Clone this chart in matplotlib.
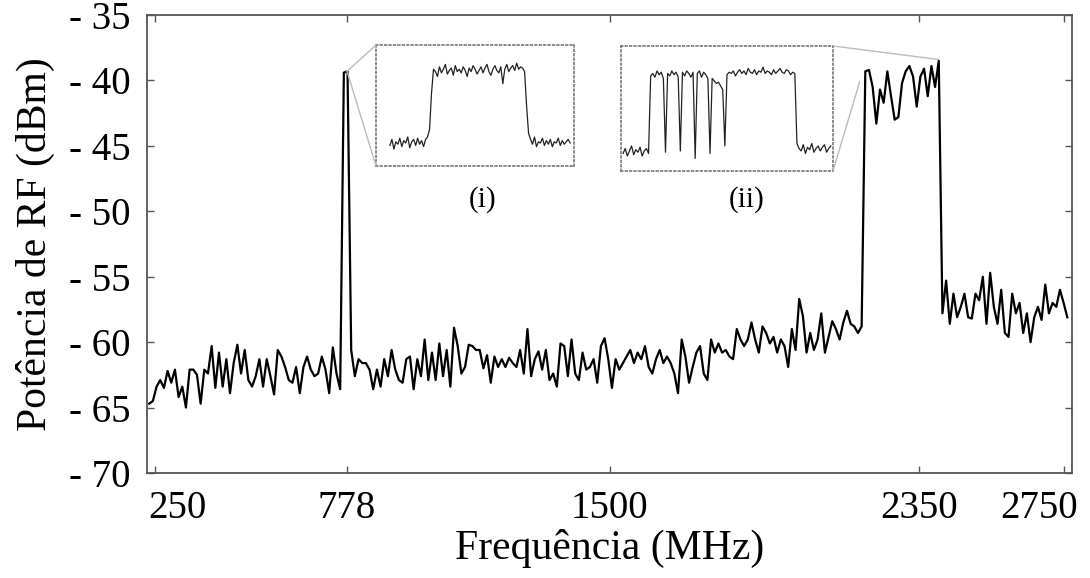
import numpy as np
import matplotlib
matplotlib.use('Agg')
import matplotlib.pyplot as plt
from matplotlib.patches import ConnectionPatch
from matplotlib.transforms import ScaledTranslation

# Espectro medido: potência (dBm) a cada 10,1 MHz, começando em 234 MHz
freq_inicio = 234
freq_passo = 10.1
potencia_dbm = [
    -64.7, -64.5, -63.4, -62.9, -63.5, -62.2,
    -63.1, -62.1, -64.2, -63.4, -65.0, -62.1, -62.1, -62.5, -64.7, -62.1,
    -62.4, -60.3, -63.5, -60.8, -63.4, -61.3, -63.9, -61.6, -60.2, -62.4,
    -60.6, -62.9, -63.4, -62.6, -61.3, -63.4, -61.3, -62.6, -64.0, -60.6,
    -61.1, -61.9, -62.9, -63.1, -61.9, -63.9, -61.9, -61.1, -62.1, -62.6,
    -62.4, -61.1, -62.1, -63.9, -60.4, -62.4, -63.6, -39.4, -39.3, -60.6,
    -62.6, -61.3, -61.6, -61.6, -62.1, -63.6, -62.1, -63.4, -61.3, -62.6,
    -60.6, -62.1, -62.9, -63.1, -61.3, -61.1, -63.6, -61.3, -62.6, -59.8,
    -62.9, -60.8, -62.9, -60.1, -62.6, -60.6, -63.4, -58.9, -60.3, -62.4,
    -61.9, -60.2, -60.3, -60.6, -60.6, -62.0, -61.0, -63.1, -61.1, -61.9,
    -61.3, -61.9, -61.2, -61.6, -61.9, -60.6, -62.4, -59.0, -62.6, -61.3,
    -60.7, -62.1, -60.6, -62.9, -62.4, -63.4, -60.1, -60.3, -62.6, -59.8,
    -62.4, -62.9, -60.8, -62.1, -61.9, -61.3, -63.1, -60.3, -59.7, -61.3,
    -63.5, -61.3, -62.1, -61.6, -61.1, -60.6, -61.6, -60.8, -61.3, -60.3,
    -61.9, -62.4, -61.3, -60.6, -61.6, -61.1, -61.6, -62.4, -63.9, -59.8,
    -61.1, -63.1, -61.9, -60.8, -60.3, -62.4, -62.9, -59.8, -60.8, -60.1,
    -60.8, -60.6, -61.1, -61.3, -59.0, -59.8, -60.3, -59.8, -58.5, -59.8,
    -60.8, -58.8, -59.3, -60.1, -59.6, -60.8, -59.8, -60.3, -61.9, -59.0,
    -60.6, -56.7, -58.0, -60.8, -59.3, -60.6, -59.8, -57.8, -60.8, -59.6,
    -58.4, -59.0, -59.8, -58.5, -57.6, -58.6, -58.8, -59.3, -58.8, -39.3,
    -39.2, -40.5, -43.3, -40.7, -41.7, -39.3, -41.2, -43.0, -42.8, -40.2,
    -39.3, -38.9, -39.7, -42.0, -39.7, -39.1, -41.2, -38.9, -40.5, -38.5,
    -57.8, -55.3, -58.6, -56.3, -58.1, -57.3, -56.3, -58.1, -58.2, -56.3,
    -56.8, -55.0, -58.6, -54.7, -57.3, -58.6, -56.0, -59.3, -59.6, -56.3,
    -57.8, -57.0, -59.3, -57.8, -60.0, -58.1, -57.3, -58.3, -55.6, -57.8,
    -57.0, -57.3, -56.0, -57.0, -58.1,
]
frequencias = freq_inicio + freq_passo * np.arange(len(potencia_dbm))

ticks_x = [250, 778, 1500, 2350, 2750]
ticks_y = [-70, -65, -60, -55, -50, -45, -40, -35]

# Detalhes (i) e (ii): forma do sinal em escala relativa (0 a 100)
detalhe_i_inicio = 7
detalhe_i = [
    17, 22, 14, 20, 18, 23, 16, 21, 19, 24, 15, 20, 22, 17, 23, 18, 21, 16, 22, 24,
    30, 60, 80,
    78, 74, 82, 77, 80, 84, 76, 79, 81, 75, 83, 78, 80, 77, 82, 79, 74, 81, 78, 83,
    80, 76, 79, 82, 77, 81, 84, 78, 75, 80, 83, 79, 77, 82, 68, 80, 84, 78, 81, 83,
    79, 85, 80, 82, 81, 78,
    50, 27,
    22, 18, 24, 16, 20, 19, 23, 17, 21, 18, 22, 16, 20, 19, 23, 17, 21, 18, 20, 22, 19,
]
detalhe_ii_inicio = 1
detalhe_ii = [
    14, 18, 12, 16, 20, 13, 17, 15, 19, 12, 16, 18, 14,
    76,
    78, 75, 80, 77, 79, 74,
    15,
    78, 76, 80, 77, 79, 75,
    16,
    79, 76, 80, 78, 75, 79,
    10,
    78, 80, 75, 79, 77, 74,
    14,
    74, 72, 70, 71, 68, 65,
    20,
    77, 79, 78, 80, 76, 79, 81, 78, 80, 77, 82, 79, 78, 81, 77, 80, 79, 83, 78, 80,
    79, 77, 81, 78, 80, 82, 79, 78, 81, 80, 77, 79, 78,
    22,
    18, 16, 21, 14, 19, 17, 22, 15, 18, 20, 16, 19, 21, 15, 18, 20,
]

plt.rcParams['font.family'] = ['Liberation Serif', 'DejaVu Serif']

fig = plt.figure(figsize=(10.9, 5.78), dpi=100)
ax = fig.add_axes([0.1349, 0.1817, 0.8486, 0.7923])

ax.plot(frequencias, potencia_dbm, color='black', lw=1.6)
ax.set_xlim(228, 2772)
ax.set_ylim(-70, -35)
ax.set_xticks(ticks_x)
ax.set_yticks(ticks_y)
ax.set_yticklabels([f"- {abs(v)}" for v in ticks_y])
ax.tick_params(direction='in', length=5, width=1, colors='#555555',
               labelcolor='black', labelsize=28, top=True, right=True)
ax.tick_params(axis='y', pad=12)
ax.tick_params(axis='x', pad=12)
for s in ax.spines.values():
    s.set_color('#555555')
    s.set_linewidth(1.3)

# primeiro e último rótulo deslocados para dentro, como no original
rotulos_x = ax.get_xticklabels()
rotulos_x[0].set_transform(rotulos_x[0].get_transform()
                           + ScaledTranslation(16 / 72, 0, fig.dpi_scale_trans))
rotulos_x[-1].set_transform(rotulos_x[-1].get_transform()
                            + ScaledTranslation(-18 / 72, 0, fig.dpi_scale_trans))

ax.set_xlabel('Frequência (MHz)', fontsize=30, labelpad=2)
ax.set_ylabel('Potência de RF (dBm)', fontsize=30, labelpad=10)


def desenhar_detalhe(posicao, inicio, valores, rotulo, pos_rotulo):
    ax_d = fig.add_axes(posicao)
    x = inicio + np.arange(len(valores))
    ax_d.plot(x, valores, color='#222222', lw=0.9)
    ax_d.set_xlim(0, 100)
    ax_d.set_ylim(0, 100)
    ax_d.set_xticks([])
    ax_d.set_yticks([])
    for s in ax_d.spines.values():
        s.set_linestyle(':')
        s.set_color('#777777')
        s.set_linewidth(1.2)
    ax_d.text(pos_rotulo[0], pos_rotulo[1], rotulo, transform=ax_d.transAxes,
              ha='center', va='center', fontsize=21)
    return ax_d


ax_i = desenhar_detalhe([0.345, 0.7128, 0.1817, 0.2093], detalhe_i_inicio,
                        detalhe_i, '(i)', (0.54, -0.28))
ax_ii = desenhar_detalhe([0.5697, 0.7042, 0.1945, 0.2163], detalhe_ii_inicio,
                         detalhe_ii, '(ii)', (0.594, -0.23))

# linhas de ligação entre os detalhes e o espectro
ligacoes = [
    (ax_i, (0, 1), (778, -39.3)),
    (ax_i, (0, 0), (778, -39.3)),
    (ax_ii, (1, 1), (2405, -38.4)),
    (ax_ii, (1, 0), (2188, -40.1)),
]
for ax_d, canto, ponto in ligacoes:
    con = ConnectionPatch(xyA=canto, coordsA=ax_d.transAxes,
                          xyB=ponto, coordsB=ax.transData,
                          color='#bbbbbb', lw=1)
    fig.add_artist(con)

fig.savefig('out.png', dpi=100)
